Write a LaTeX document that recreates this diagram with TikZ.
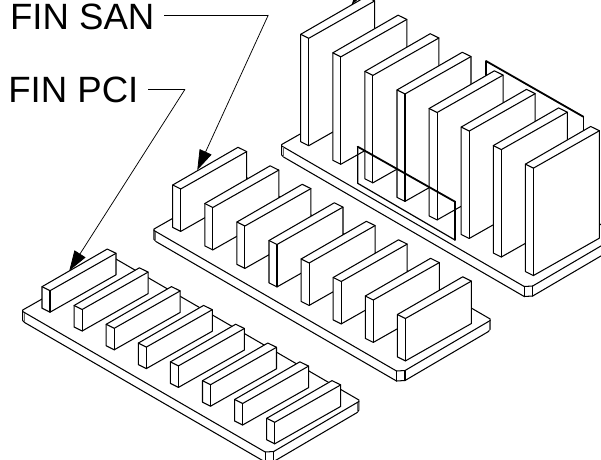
\documentclass[tikz,border=0pt]{standalone}
\usepackage{fontspec}
\setmainfont{Liberation Sans}
\usetikzlibrary{arrows.meta}
\tikzset{
  x=1pt,y=-1pt,
  edgeline/.style={line width=1.05pt,line join=round,line cap=round,draw=black},
  solidpart/.style={edgeline,fill=white},
  leader/.style={line width=0.75pt,draw=black,line join=miter},
  leaderarrow/.style={leader,-{Triangle[length=20pt,width=13pt]}},
  sectionheavy/.style={line width=1.8pt,draw=black,line cap=round},
  sectionlight/.style={line width=1.2pt,draw=black,line join=round},
  callout/.style={font=\fontsize{36.6}{36.6}\selectfont,inner sep=0pt,outer xsep=10pt,anchor=base west,text depth=0pt}
}
% one fin: left top corner (#1,#2), height #3
\newcommand{\onefin}[3]{%
  \draw[solidpart] (#1,#2) -- ++(65.3,-37.7) -- ++(8.7,4.3) -- ++(0,#3) -- ++(-66,37.4) -- ++(-8,-4) -- cycle;
  \draw[edgeline] (#1,#2) -- ++(8,4) -- ++(66,-37.4);
  \draw[edgeline] (#1+8,#2+4) -- ++(0,#3);
}
% row of eight fins: first corner (#1,#2), height #3, spacing y #4
\newcommand{\finrow}[4]{%
  \foreach \k in {0,...,7}{%
    \pgfmathsetmacro{\fx}{#1+32.1*\k}%
    \pgfmathsetmacro{\fy}{#2+#4*\k}%
    \onefin{\fx}{\fy}{#3}%
  }%
}
% base plate: left corner (#1,#2)
\newcommand{\baseplate}[2]{%
  \draw[solidpart] (#1,#2) -- ++(0,10.5) -- ++(2.2,2.2) -- (#1+242.5,#2+152) -- (#1+251,#2+151.5) -- (#1+334.5,#2+102.5) -- (#1+336.2,#2+100) -- ++(0,-10) -- (#1+91.5,#2-52) -- cycle;
  \draw[edgeline] (#1,#2+1.5) -- (#1+242.5,#2+142) -- (#1+251,#2+141.5) -- (#1+336.2,#2+91.5);
  \draw[line width=0.6pt,draw=black!60] (#1+1.6,#2+2.5) -- ++(0,9.5);
  \draw[line width=0.6pt,draw=black!60] (#1+334.8,#2+92.5) -- ++(0,9.5);
  \draw[edgeline] (#1+242.5,#2+142) -- ++(0,10);
  \draw[edgeline] (#1+251,#2+141.5) -- ++(0,10);
}
\begin{document}
\begin{tikzpicture}
\useasboundingbox (0,0) rectangle (601,459);
\clip (0,0) rectangle (601,459);
\fill[white] (0,0) rectangle (601,459);
% large plate
\baseplate{281.7}{144.5}
\draw[sectionheavy] (486,61) -- (583.3,116.7);
\draw[sectionlight] (486,61) -- (486,80);
\draw[sectionlight] (583.3,116.7) -- (583.3,140);
\finrow{300.7}{34.3}{107.4}{18.55}
% section frame in front of the large fins
\draw[sectionlight] (357.7,146.7) -- (357.7,183.3) -- (455,240);
\draw[sectionheavy] (357.7,146.7) -- (455,201.7) -- (455,240);
% medium
\baseplate{154}{229}
\finrow{172.7}{185}{42.4}{18.5}
% small
\baseplate{22.7}{310}
\finrow{42}{286.7}{21.5}{18.8}
% labels
\node[callout,text height=28.6pt] (san) at (0,29.3) {FIN SAN};
\node[callout,text height=26.8pt] (pci) at (-1.7,102.7) {FIN PCI};
\coordinate (sanbend) at (268.3,15);
\coordinate (santip) at (197.3,170);
\coordinate (pcibend) at (185,89.3);
\coordinate (pcitip) at (69.3,270.7);
\draw[leader] (san.east) -- (san.east -| sanbend);
\draw[leaderarrow] (san.east -| sanbend) -- (santip);
\draw[leader] (pci.east) -- (pci.east -| pcibend);
\draw[leaderarrow] (pci.east -| pcibend) -- (pcitip);
\fill[black] (353.5,-1) -- (358.5,-1) -- (351.5,5) -- cycle;
\end{tikzpicture}
\end{document}
